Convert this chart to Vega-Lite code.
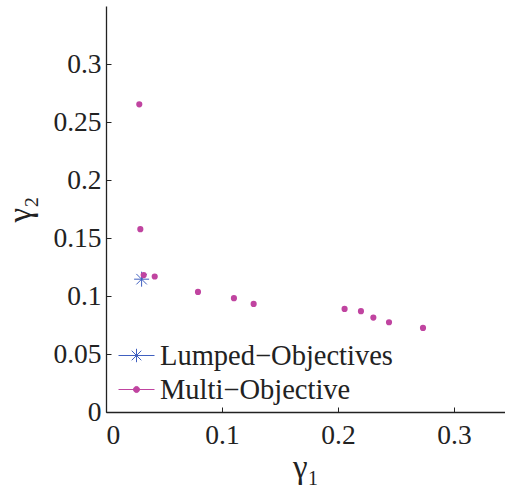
{
  "$schema": "https://vega.github.io/schema/vega-lite/v6.json",
  "width": 399,
  "height": 406,
  "autosize": "none",
  "padding": {"left": 106, "top": 6, "right": 0, "bottom": 75},
  "background": "white",
  "config": {
    "view": {"stroke": null},
    "font": "Liberation Serif",
    "axis": {
      "grid": false,
      "domainColor": "#222222",
      "domainWidth": 1.3,
      "tickColor": "#222222",
      "tickSize": -5,
      "labelFont": "Liberation Serif",
      "labelFontSize": 27.5,
      "labelColor": "#222222",
      "titleFont": "Liberation Serif",
      "titleFontSize": 33,
      "titleFontWeight": "normal",
      "titleColor": "#222222"
    },
    "legend": {
      "labelFont": "Liberation Serif",
      "labelFontSize": 28.5,
      "labelColor": "#222222",
      "labelLimit": 500,
      "symbolStrokeWidth": 1,
      "symbolOpacity": 1
    }
  },
  "data": {
    "values": [
      {"series": "Lumped−Objectives", "g1": 0.0307, "g2": 0.1145},
      {"series": "Multi−Objective", "g1": 0.0287, "g2": 0.2652},
      {"series": "Multi−Objective", "g1": 0.0296, "g2": 0.1576},
      {"series": "Multi−Objective", "g1": 0.0325, "g2": 0.1180},
      {"series": "Multi−Objective", "g1": 0.0420, "g2": 0.1168},
      {"series": "Multi−Objective", "g1": 0.0793, "g2": 0.1035},
      {"series": "Multi−Objective", "g1": 0.1103, "g2": 0.0981},
      {"series": "Multi−Objective", "g1": 0.1273, "g2": 0.0932},
      {"series": "Multi−Objective", "g1": 0.2057, "g2": 0.0889},
      {"series": "Multi−Objective", "g1": 0.2198, "g2": 0.0869},
      {"series": "Multi−Objective", "g1": 0.2305, "g2": 0.0814},
      {"series": "Multi−Objective", "g1": 0.2440, "g2": 0.0774},
      {"series": "Multi−Objective", "g1": 0.2733, "g2": 0.0725}
    ]
  },
  "encoding": {
    "x": {
      "field": "g1", "type": "quantitative",
      "scale": {"domain": [0, 0.344], "nice": false, "zero": false},
      "axis": {"values": [0, 0.1, 0.2, 0.3], "format": "~g", "title": "γ₁", "labelPadding": 14, "titlePadding": 3}
    },
    "y": {
      "field": "g2", "type": "quantitative",
      "scale": {"domain": [0, 0.35], "nice": false, "zero": false},
      "axis": {"values": [0, 0.05, 0.1, 0.15, 0.2, 0.25, 0.3], "format": "~g", "title": "γ₂", "labelPadding": 10, "titlePadding": 15}
    },
    "color": {
      "field": "series", "type": "nominal",
      "scale": {"domain": ["Lumped−Objectives", "Multi−Objective"], "range": ["#4060c0", "#c044a0"]},
      "legend": {
        "title": null,
        "orient": "none",
        "legendX": 14,
        "legendY": 333,
        "padding": 0,
        "rowPadding": 3,
        "symbolSize": 1024,
        "labelOffset": 7
      }
    }
  },
  "layer": [
    {
      "transform": [{"filter": "false"}],
      "mark": {"type": "point", "filled": true, "opacity": 1},
      "encoding": {
        "shape": {
          "field": "series", "type": "nominal",
          "scale": {
            "domain": ["Lumped−Objectives", "Multi−Objective"],
            "range": [
              "M-1.125,0H1.125M0,-0.42V0.42M-0.3,-0.3L0.3,0.3M-0.3,0.3L0.3,-0.3",
              "M-1.125,0H1.125M0.19,0A0.19,0.19,0,1,1,-0.19,0A0.19,0.19,0,1,1,0.19,0Z"
            ]
          }
        }
      }
    },
    {
      "transform": [{"filter": "datum.series === 'Lumped−Objectives'"}],
      "mark": {"type": "point", "filled": false, "shape": "M0,-1V1M-1,0H1M-0.7,-0.7L0.7,0.7M-0.7,0.7L0.7,-0.7", "size": 225, "strokeWidth": 1, "opacity": 1}
    },
    {
      "transform": [{"filter": "datum.series === 'Multi−Objective'"}],
      "mark": {"type": "circle", "size": 38, "opacity": 1}
    }
  ]
}
